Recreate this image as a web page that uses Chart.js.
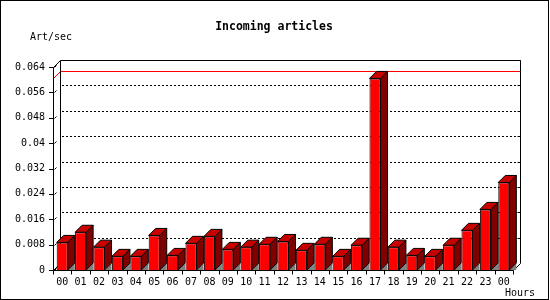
<!DOCTYPE html>
<html>
<head>
<meta charset="utf-8">
<script src="https://cdn.jsdelivr.net/npm/chart.js@4.4.0/dist/chart.umd.min.js"></script>
<style>
  html, body { margin: 0; padding: 0; background: #fff; }
</style>
</head>
<body>
<canvas id="grafico" width="550" height="300"></canvas>
<script>
const horas = ['00','01','02','03','04','05','06','07','08','09','10','11',
               '12','13','14','15','16','17','18','19','20','21','22','23','00'];
const artigos = [0.0087, 0.0119, 0.0072, 0.0043, 0.0043, 0.0109, 0.0046, 0.0084,
                 0.0106, 0.0065, 0.0072, 0.0081, 0.0090, 0.0062, 0.0081, 0.0043,
                 0.0078, 0.0604, 0.0072, 0.0046, 0.0043, 0.0078, 0.0125, 0.0191, 0.0276];
const yTicks = [0, 0.008, 0.016, 0.024, 0.032, 0.04, 0.048, 0.056, 0.064];
const yLabels = ['0','0.008','0.016','0.024','0.032','0.04','0.048','0.056','0.064'];

const fonte = '"DejaVu Sans Mono", monospace';
const prof = 7; // profundidade do efeito 3D

const efeito3d = {
  id: 'efeito3d',
  beforeDatasetsDraw(chart) {
    const { ctx, chartArea: a, scales: { x, y } } = chart;
    const L = a.left, R = a.right, T = a.top, B = a.bottom;
    const px = v => Math.round(v) + 0.5;
    ctx.save();
    ctx.lineWidth = 1;
    ctx.strokeStyle = '#000';

    // grade pontilhada no fundo
    ctx.setLineDash([2, 2]);
    yTicks.forEach(v => {
      if (v === 0 || v === yTicks[yTicks.length - 1]) return;
      const yy = px(y.getPixelForValue(v) - prof);
      ctx.beginPath();
      ctx.moveTo(L + prof + 2, yy);
      ctx.lineTo(R + prof, yy);
      ctx.stroke();
    });
    ctx.setLineDash([]);

    // linha do maximo (vermelha)
    const ym = y.getPixelForValue(Math.max(...artigos));
    ctx.strokeStyle = '#ff0000';
    ctx.beginPath();
    ctx.moveTo(px(L), px(ym));
    ctx.lineTo(px(L + prof), px(ym - prof));
    ctx.lineTo(px(R + prof), px(ym - prof));
    ctx.stroke();
    ctx.strokeStyle = '#000';

    // parede do fundo
    ctx.beginPath();
    ctx.moveTo(px(L + prof), px(B - prof));
    ctx.lineTo(px(L + prof), px(T - prof));
    ctx.lineTo(px(R + prof), px(T - prof));
    ctx.lineTo(px(R + prof), px(B - prof));
    ctx.stroke();

    // eixo frontal e chao
    ctx.beginPath();
    ctx.moveTo(px(L), px(T));
    ctx.lineTo(px(L + prof), px(T - prof));
    ctx.moveTo(px(L), px(T));
    ctx.lineTo(px(L), px(B));
    ctx.lineTo(px(R), px(B));
    ctx.lineTo(px(R + prof), px(B - prof));
    ctx.moveTo(px(L), px(B));
    ctx.lineTo(px(L + prof), px(B - prof));
    ctx.stroke();

    // marcas do eixo y
    yTicks.forEach(v => {
      const yy = px(y.getPixelForValue(v));
      ctx.beginPath();
      ctx.moveTo(L - 4, yy);
      ctx.lineTo(px(L), yy);
      ctx.moveTo(px(L) + 1, yy);
      ctx.lineTo(px(L) + 3, yy - 2);
      ctx.stroke();
      if (v > 0) {
        const yb = px(y.getPixelForValue(v) - prof);
        ctx.beginPath();
        ctx.moveTo(px(R + prof) - 3, yb);
        ctx.lineTo(px(R + prof), yb);
        ctx.stroke();
      }
    });

    // marcas do eixo x
    const passo = (R - L) / horas.length;
    for (let i = 0; i <= horas.length; i++) {
      const xx = px(x.getPixelForValue(0) - passo / 2 + i * passo);
      ctx.beginPath();
      ctx.moveTo(xx, px(B));
      ctx.lineTo(xx, px(B) + 4);
      ctx.stroke();
    }

    // faces laterais e de cima das barras
    chart.getDatasetMeta(0).data.forEach(bar => {
      const { x: cx, y: top, base, width } = bar.getProps(['x', 'y', 'base', 'width'], true);
      const l = cx - width / 2, r = cx + width / 2;
      // sombra no chao
      ctx.fillStyle = '#808080';
      ctx.beginPath();
      ctx.moveTo(r, base);
      ctx.lineTo(r + prof, base - prof);
      ctx.lineTo(r + prof, base);
      ctx.closePath();
      ctx.fill();
      // lado
      ctx.fillStyle = '#800000';
      ctx.beginPath();
      ctx.moveTo(r, top);
      ctx.lineTo(r + prof, top - prof);
      ctx.lineTo(r + prof, base - prof);
      ctx.lineTo(r, base);
      ctx.closePath();
      ctx.fill();
      ctx.stroke();
      // topo
      ctx.fillStyle = '#c80000';
      ctx.beginPath();
      ctx.moveTo(l, top);
      ctx.lineTo(l + prof, top - prof);
      ctx.lineTo(r + prof, top - prof);
      ctx.lineTo(r, top);
      ctx.closePath();
      ctx.fill();
      ctx.stroke();
    });
    ctx.restore();
  },
  afterDraw(chart) {
    const { ctx } = chart;
    ctx.save();
    ctx.fillStyle = '#000';
    ctx.textBaseline = 'middle';
    ctx.textAlign = 'center';
    ctx.font = 'bold 11.5px ' + fonte;
    ctx.fillText('Incoming articles', 274, 27);
    ctx.textAlign = 'left';
    ctx.font = '10px ' + fonte;
    ctx.fillText('Art/sec', 30, 37);
    ctx.fillText('Hours', 505, 293);
    // moldura
    ctx.strokeStyle = '#000';
    ctx.lineWidth = 1;
    ctx.strokeRect(0.5, 0.5, 548, 299);
    ctx.restore();
  }
};

const ctx = document.getElementById('grafico').getContext('2d');
const chart = new Chart(ctx, {
  type: 'bar',
  data: {
    labels: horas,
    datasets: [{
      label: 'Art/sec',
      data: artigos,
      backgroundColor: '#ff0000',
      borderColor: '#000000',
      borderWidth: 1,
      barPercentage: 0.6,
      categoryPercentage: 1
    }]
  },
  options: {
    responsive: false,
    animation: false,
    layout: { padding: { top: 67, right: 37, left: 0, bottom: 0 } },
    plugins: {
      legend: { display: false },
      tooltip: { enabled: false }
    },
    scales: {
      x: {
        grid: { display: false, drawTicks: false },
        border: { display: false },
        ticks: {
          color: '#000',
          font: { family: fonte, size: 10 },
          padding: 6,
          maxRotation: 0,
          autoSkip: false
        },
        afterFit: s => { s.height = 30; }
      },
      y: {
        min: 0,
        max: 0.064,
        grid: { display: false, drawTicks: false },
        border: { display: false },
        afterBuildTicks: s => { s.ticks = yTicks.map(v => ({ value: v })); },
        ticks: {
          color: '#000',
          font: { family: fonte, size: 10 },
          padding: 8,
          callback: (v, i) => yLabels[i]
        },
        afterFit: s => { s.width = 53; }
      }
    }
  },
  plugins: [efeito3d]
});
</script>
</body>
</html>
